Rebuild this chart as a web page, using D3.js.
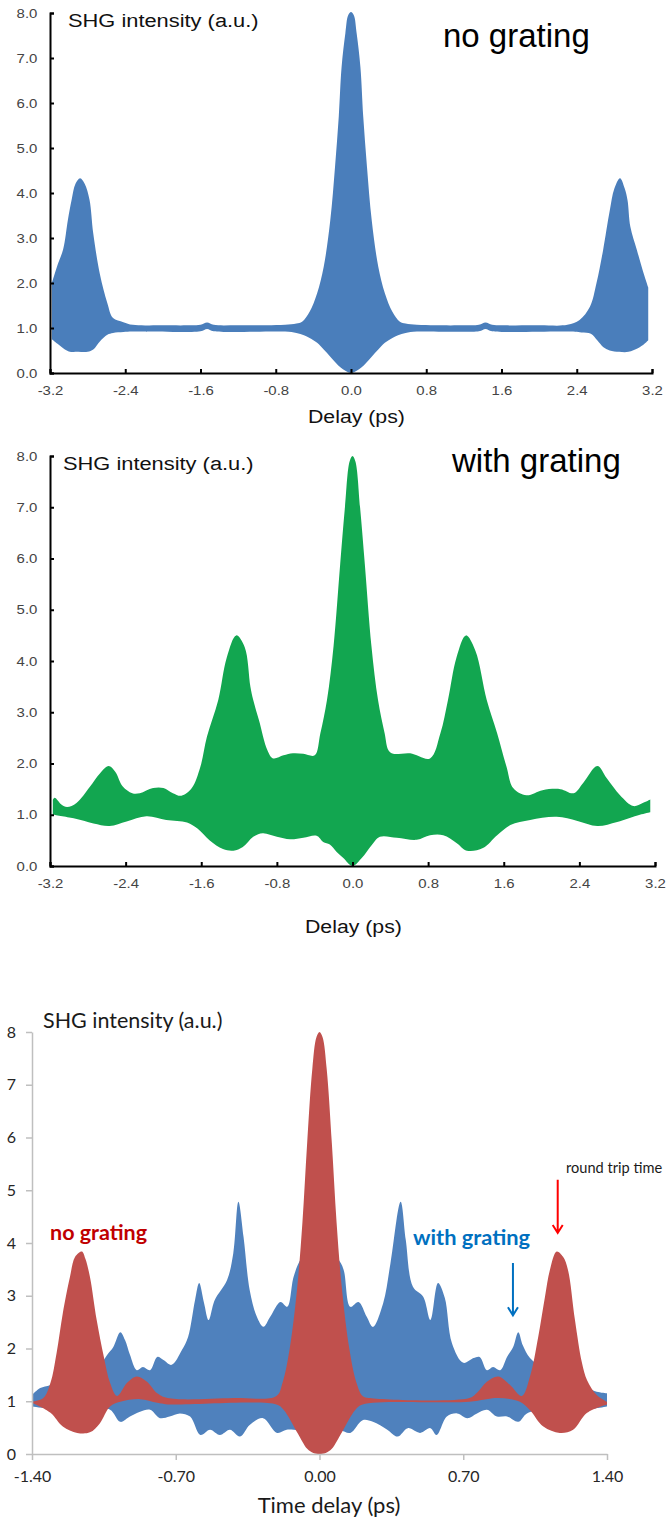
<!DOCTYPE html>
<html>
<head>
<meta charset="utf-8">
<script src="https://cdn.jsdelivr.net/npm/d3@7"></script>
<style>
  body { margin: 0; background: #fff; }
  svg { display: block; }
</style>
</head>
<body>
<svg id="chart" width="668" height="1523"></svg>
<script>
// Panel 1 - no grating (envelopes of the interferometric trace)
let p1_up_t = [-3.18, -3.12, -3.06, -3.01, -2.97, -2.93, -2.88, -2.83, -2.78, -2.74, -2.67, -2.59, -2.53, -2.42, -2.32, -2.0, -1.7, -1.6, -1.53, -1.46, -1.2, -0.9, -0.7, -0.58, -0.52, -0.44, -0.36, -0.29, -0.22, -0.17, -0.13, -0.1, -0.06, -0.03, 0, 0.03, 0.06, 0.1, 0.13, 0.17, 0.22, 0.29, 0.36, 0.44, 0.52, 0.58, 0.7, 0.9, 1.2, 1.36, 1.43, 1.5, 1.6, 2.0, 2.3, 2.43, 2.54, 2.61, 2.68, 2.75, 2.8, 2.86, 2.91, 2.94, 2.97, 3.04, 3.1, 3.16];
let p1_up_v = [2.0, 2.4, 2.75, 3.4, 3.85, 4.2, 4.33, 4.2, 3.85, 3.1, 2.2, 1.55, 1.22, 1.13, 1.07, 1.06, 1.06, 1.07, 1.12, 1.07, 1.06, 1.06, 1.07, 1.1, 1.14, 1.36, 1.77, 2.36, 3.4, 4.58, 5.7, 6.8, 7.55, 7.95, 8.02, 7.95, 7.55, 6.8, 5.7, 4.58, 3.4, 2.36, 1.77, 1.36, 1.14, 1.1, 1.07, 1.06, 1.06, 1.07, 1.12, 1.07, 1.06, 1.06, 1.07, 1.18, 1.47, 2.0, 2.73, 3.6, 4.1, 4.33, 4.1, 3.84, 3.25, 2.73, 2.29, 1.9];
let p1_lo_t = [-3.18, -3.12, -3.06, -3.0, -2.9, -2.8, -2.74, -2.67, -2.59, -2.53, -2.42, -2.32, -1.6, -1.53, -1.46, -0.7, -0.58, -0.5, -0.44, -0.36, -0.29, -0.22, -0.16, -0.11, -0.06, 0, 0.06, 0.11, 0.16, 0.22, 0.29, 0.36, 0.44, 0.5, 0.58, 0.7, 1.36, 1.43, 1.5, 2.3, 2.45, 2.55, 2.62, 2.68, 2.75, 2.85, 2.95, 3.05, 3.12, 3.16];
let p1_lo_v = [0.75, 0.65, 0.55, 0.48, 0.47, 0.47, 0.52, 0.7, 0.85, 0.89, 0.91, 0.92, 0.93, 0.98, 0.93, 0.92, 0.89, 0.84, 0.78, 0.67, 0.52, 0.36, 0.22, 0.12, 0.05, 0.0, 0.05, 0.12, 0.22, 0.36, 0.52, 0.67, 0.78, 0.84, 0.89, 0.92, 0.93, 0.98, 0.93, 0.92, 0.9, 0.87, 0.72, 0.58, 0.5, 0.47, 0.47, 0.55, 0.65, 0.73];

// Panel 2 - with grating
let p2_up_t = [-3.17, -3.15, -3.08, -3.02, -2.92, -2.78, -2.67, -2.58, -2.51, -2.43, -2.33, -2.25, -2.11, -2.0, -1.9, -1.81, -1.7, -1.61, -1.54, -1.42, -1.33, -1.23, -1.14, -1.08, -1.05, -0.99, -0.9, -0.84, -0.73, -0.63, -0.52, -0.4, -0.34, -0.27, -0.2, -0.13, -0.08, -0.03, 0, 0.03, 0.08, 0.13, 0.2, 0.27, 0.34, 0.38, 0.43, 0.61, 0.82, 0.93, 1.01, 1.1, 1.2, 1.3, 1.42, 1.53, 1.63, 1.7, 1.84, 2.01, 2.2, 2.34, 2.44, 2.59, 2.69, 2.83, 2.97, 3.07, 3.15];
let p2_up_v = [1.29, 1.33, 1.2, 1.15, 1.23, 1.54, 1.81, 1.95, 1.84, 1.55, 1.42, 1.42, 1.52, 1.52, 1.42, 1.37, 1.52, 1.93, 2.52, 3.24, 4.07, 4.5, 4.27, 3.5, 3.24, 2.85, 2.26, 2.1, 2.16, 2.2, 2.19, 2.16, 2.59, 3.24, 4.3, 5.9, 7.0, 7.9, 8.0, 7.9, 7.0, 5.9, 4.3, 3.24, 2.59, 2.26, 2.19, 2.2, 2.1, 2.59, 3.24, 4.07, 4.5, 4.2, 3.24, 2.59, 1.93, 1.52, 1.38, 1.48, 1.5, 1.42, 1.62, 1.95, 1.71, 1.38, 1.17, 1.23, 1.3];
let p2_lo_t = [-3.17, -2.95, -2.74, -2.57, -2.39, -2.18, -1.97, -1.75, -1.64, -1.51, -1.37, -1.26, -1.16, -1.05, -0.95, -0.8, -0.66, -0.52, -0.38, -0.31, -0.24, -0.17, -0.1, 0, 0.1, 0.2, 0.29, 0.47, 0.68, 0.82, 0.96, 1.1, 1.21, 1.38, 1.53, 1.67, 1.88, 2.16, 2.38, 2.59, 2.8, 3.04, 3.15];
let p2_lo_v = [1.0, 0.93, 0.83, 0.78, 0.87, 0.97, 0.9, 0.85, 0.73, 0.5, 0.33, 0.3, 0.37, 0.57, 0.64, 0.57, 0.52, 0.55, 0.59, 0.47, 0.42, 0.28, 0.16, 0.0, 0.16, 0.4, 0.57, 0.55, 0.51, 0.6, 0.6, 0.45, 0.3, 0.35, 0.6, 0.8, 0.9, 0.96, 0.88, 0.78, 0.86, 1.0, 1.05];

// Panel 3 - with grating (blue) behind no grating (red)
let p3_blue_up_t = [-1.4, -1.36, -1.31, -1.2, -1.07, -1.03, -1.004, -0.97, -0.947, -0.923, -0.89, -0.86, -0.825, -0.79, -0.76, -0.72, -0.67, -0.64, -0.606, -0.586, -0.562, -0.54, -0.51, -0.45, -0.42, -0.395, -0.37, -0.34, -0.305, -0.273, -0.24, -0.19, -0.157, -0.126, -0.09, -0.04, 0, 0.04, 0.09, 0.117, 0.15, 0.19, 0.23, 0.26, 0.31, 0.345, 0.395, 0.42, 0.455, 0.505, 0.54, 0.577, 0.61, 0.645, 0.7, 0.75, 0.78, 0.815, 0.845, 0.88, 0.913, 0.943, 0.968, 0.99, 1.025, 1.1, 1.2, 1.303, 1.35, 1.4];
let p3_blue_up_v = [1.12, 1.25, 1.31, 1.5, 1.7, 1.9, 2.03, 2.31, 2.16, 1.88, 1.59, 1.65, 1.59, 1.84, 1.78, 1.69, 1.97, 2.22, 2.92, 3.24, 2.86, 2.54, 2.92, 3.3, 3.8, 4.78, 4.12, 3.11, 2.6, 2.41, 2.6, 2.88, 2.79, 3.36, 3.7, 3.9, 4.0, 3.9, 3.7, 3.5, 2.79, 2.88, 2.6, 2.41, 2.86, 3.6, 4.78, 4.06, 3.17, 2.98, 2.54, 3.24, 2.96, 2.1, 1.73, 1.82, 1.84, 1.59, 1.65, 1.59, 1.84, 2.03, 2.31, 2.06, 1.82, 1.6, 1.4, 1.25, 1.18, 1.15];
let p3_blue_lo_t = [-1.4, -1.31, -1.2, -1.1, -1.02, -0.97, -0.923, -0.874, -0.825, -0.777, -0.73, -0.68, -0.63, -0.58, -0.533, -0.485, -0.436, -0.387, -0.34, -0.275, -0.207, -0.16, -0.1, 0, 0.1, 0.15, 0.21, 0.26, 0.33, 0.38, 0.43, 0.49, 0.54, 0.57, 0.62, 0.67, 0.72, 0.767, 0.815, 0.864, 0.913, 0.968, 1.01, 1.1, 1.2, 1.33, 1.4];
let p3_blue_lo_v = [0.9, 0.86, 0.85, 0.85, 0.84, 0.61, 0.71, 0.8, 0.84, 0.68, 0.71, 0.77, 0.71, 0.36, 0.46, 0.36, 0.46, 0.33, 0.55, 0.68, 0.4, 0.46, 0.45, 0.45, 0.45, 0.4, 0.64, 0.61, 0.46, 0.33, 0.49, 0.4, 0.49, 0.36, 0.71, 0.77, 0.68, 0.77, 0.84, 0.71, 0.71, 0.61, 0.77, 0.85, 0.85, 0.86, 0.9];
let p3_red_up_t = [-1.4, -1.345, -1.31, -1.28, -1.25, -1.215, -1.19, -1.157, -1.14, -1.118, -1.085, -1.05, -1.02, -0.986, -0.937, -0.89, -0.84, -0.79, -0.74, -0.42, -0.21, -0.18, -0.145, -0.11, -0.083, -0.06, -0.035, -0.015, 0, 0.015, 0.035, 0.06, 0.083, 0.11, 0.145, 0.18, 0.21, 0.245, 0.73, 0.767, 0.815, 0.87, 0.928, 0.985, 1.025, 1.065, 1.098, 1.122, 1.155, 1.186, 1.21, 1.244, 1.278, 1.303, 1.35, 1.4];
let p3_red_up_v = [0.99, 1.06, 1.35, 1.92, 2.67, 3.36, 3.74, 3.84, 3.7, 3.36, 2.54, 1.84, 1.35, 1.1, 1.35, 1.47, 1.37, 1.15, 1.06, 1.06, 1.1, 1.35, 2.0, 3.1, 4.4, 5.9, 7.3, 7.9, 8.0, 7.9, 7.3, 5.9, 4.4, 3.1, 2.0, 1.35, 1.1, 1.06, 1.06, 1.16, 1.37, 1.47, 1.31, 1.1, 1.47, 2.22, 2.98, 3.49, 3.84, 3.74, 3.49, 2.54, 1.73, 1.4, 1.12, 0.99];
let p3_red_lo_t = [-1.4, -1.31, -1.25, -1.18, -1.118, -1.07, -1.02, -0.97, -0.874, -0.79, -0.74, -0.21, -0.175, -0.107, -0.06, -0.03, 0, 0.03, 0.06, 0.107, 0.175, 0.21, 0.73, 0.87, 0.976, 1.025, 1.09, 1.17, 1.235, 1.303, 1.4];
let p3_red_lo_v = [0.97, 0.78, 0.52, 0.4, 0.41, 0.58, 0.9, 0.99, 1.04, 0.97, 0.94, 0.94, 0.84, 0.4, 0.1, 0.02, 0.0, 0.02, 0.1, 0.4, 0.84, 0.94, 0.99, 1.06, 0.99, 0.83, 0.52, 0.4, 0.46, 0.78, 0.94];

// Ticks
let ticks_x12 = [-3.2, -2.4, -1.6, -0.8, 0, 0.8, 1.6, 2.4, 3.2];
let ticks_y12 = [0, 1, 2, 3, 4, 5, 6, 7, 8];
let ticks_x3 = [-1.4, -0.7, 0, 0.7, 1.4];
let ticks_y3 = [0, 1, 2, 3, 4, 5, 6, 7, 8];

// Annotation positions (data units, panel 3)
let arrow_red = {t: 1.16, from: 5.2, to: 4.19};
let arrow_blue = {t: 0.942, from: 3.62, to: 2.63};

let old_font = "'Liberation Sans', Arial, sans-serif";
let new_font = "Lato, 'Noto Sans', sans-serif";

let svg = d3.select("#chart");

function envelope(x, y, up_t, up_v, lo_t, lo_v) {
  let line = d3.line()
               .x(d => x(d[0]))
               .y(d => y(d[1]))
               .curve(d3.curveCatmullRom.alpha(0.5));
  let up = d3.zip(up_t, up_v);
  let lo = d3.zip(lo_t, lo_v).reverse();
  return line(up) + "L" + line(lo).slice(1) + "Z";
}

// old style axes (panels 1 and 2): thick black, ticks inside, stretched labels
function old_axes(x, y) {
  let left = x.range()[0], bottom = y.range()[0];

  let ya = svg.append("g")
      .attr("transform", "translate(" + left + ",0)")
      .call(d3.axisLeft(y).tickValues(ticks_y12).tickFormat(d => d.toFixed(1))
              .tickSizeInner(-4).tickSizeOuter(-4).tickPadding(11));

  let xa = svg.append("g")
      .attr("transform", "translate(0," + bottom + ")")
      .call(d3.axisBottom(x).tickValues(ticks_x12).tickFormat(d => d.toFixed(1))
              .tickSizeInner(-4).tickSizeOuter(-4).tickPadding(13));

  [ya, xa].forEach(function(a) {
    a.select(".domain").attr("stroke", "#000").attr("stroke-width", 2);
    a.selectAll(".tick line").attr("stroke", "#000").attr("stroke-width", 2);
    a.selectAll(".tick text")
     .attr("fill", "#444")
     .attr("transform", "scale(1.15,1)")
     .style("font-family", old_font)
     .style("font-size", "13px");
  });
}

function old_text(px, py, str, size) {
  svg.append("text")
     .attr("transform", "translate(" + px + "," + py + ") scale(1.15,1)")
     .style("font-family", old_font)
     .style("font-size", size + "px")
     .attr("fill", "#111")
     .text(str);
}

// ---------- Panel 1 ----------
let x1 = d3.scaleLinear().domain([-3.2, 3.2]).range([50, 652]);
let y1 = d3.scaleLinear().domain([0, 8]).range([373, 13]);

svg.append("path")
   .attr("d", envelope(x1, y1, p1_up_t, p1_up_v, p1_lo_t, p1_lo_v))
   .attr("fill", "#4a7ebb");

old_axes(x1, y1);
old_text(68, 27, "SHG intensity (a.u.)", 19);
old_text(308, 423, "Delay (ps)", 18.5);

svg.append("text")
   .attr("x", 443).attr("y", 47)
   .style("font-family", old_font)
   .style("font-size", "33px")
   .text("no grating");

// ---------- Panel 2 ----------
let x2 = d3.scaleLinear().domain([-3.2, 3.2]).range([50, 655]);
let y2 = d3.scaleLinear().domain([0, 8]).range([866, 456]);

svg.append("path")
   .attr("d", envelope(x2, y2, p2_up_t, p2_up_v, p2_lo_t, p2_lo_v))
   .attr("fill", "#12a650");

old_axes(x2, y2);
old_text(63, 470, "SHG intensity (a.u.)", 19);
old_text(305, 933, "Delay (ps)", 18.5);

svg.append("text")
   .attr("x", 452).attr("y", 472)
   .style("font-family", old_font)
   .style("font-size", "33px")
   .text("with grating");

// ---------- Panel 3 ----------
let x3 = d3.scaleLinear().domain([-1.4, 1.4]).range([32, 607]);
let y3 = d3.scaleLinear().domain([0, 8]).range([1454, 1032]);

svg.append("path")
   .attr("d", envelope(x3, y3, p3_blue_up_t, p3_blue_up_v, p3_blue_lo_t, p3_blue_lo_v))
   .attr("fill", "#4f81bd");

svg.append("path")
   .attr("d", envelope(x3, y3, p3_red_up_t, p3_red_up_v, p3_red_lo_t, p3_red_lo_v))
   .attr("fill", "#c0504d");

let ya3 = svg.append("g")
    .attr("transform", "translate(32,0)")
    .call(d3.axisLeft(y3).tickValues(ticks_y3).tickFormat(d3.format("d"))
            .tickSizeInner(6).tickSizeOuter(0).tickPadding(10));

let xa3 = svg.append("g")
    .attr("transform", "translate(0,1454)")
    .call(d3.axisBottom(x3).tickValues(ticks_x3).tickFormat(d => d.toFixed(2))
            .tickSizeInner(6).tickSizeOuter(0).tickPadding(11));

[ya3, xa3].forEach(function(a) {
  a.select(".domain").attr("stroke", "#bfbfbf").attr("stroke-width", 1.5);
  a.selectAll(".tick line").attr("stroke", "#bfbfbf").attr("stroke-width", 1.5);
  a.selectAll(".tick text")
   .attr("fill", "#262626")
   .style("font-family", new_font)
   .style("font-size", "16px");
});

svg.append("text")
   .attr("x", 43).attr("y", 1028)
   .style("font-family", new_font)
   .style("font-size", "21.5px")
   .attr("fill", "#1a1a1a")
   .text("SHG intensity (a.u.)");

svg.append("text")
   .attr("x", 329).attr("y", 1513)
   .attr("text-anchor", "middle")
   .style("font-family", new_font)
   .style("font-size", "22px")
   .attr("fill", "#1a1a1a")
   .text("Time delay (ps)");

svg.append("text")
   .attr("x", 50).attr("y", 1240)
   .style("font-family", new_font)
   .style("font-size", "21.5px")
   .style("font-weight", "bold")
   .attr("fill", "#c00000")
   .text("no grating");

svg.append("text")
   .attr("x", 413).attr("y", 1245)
   .style("font-family", new_font)
   .style("font-size", "21.8px")
   .style("font-weight", "bold")
   .attr("fill", "#0070c0")
   .text("with grating");

// squeezed a little so the whole label stays inside the page
svg.append("text")
   .attr("x", 566).attr("y", 1173)
   .style("font-family", new_font)
   .style("font-size", "14.6px")
   .attr("fill", "#1a1a1a")
   .text("round trip time");

function arrow(a, color) {
  let ax = x3(a.t), y0 = y3(a.from), y1 = y3(a.to);
  svg.append("path")
     .attr("d", "M" + ax + "," + y0 + "V" + y1 + "M" + (ax - 5) + "," + (y1 - 8) + "L" + ax + "," + y1 + "L" + (ax + 5) + "," + (y1 - 8))
     .attr("fill", "none")
     .attr("stroke", color)
     .attr("stroke-width", 2);
}
arrow(arrow_red, "#ff0000");
arrow(arrow_blue, "#0070c0");
</script>
</body>
</html>
